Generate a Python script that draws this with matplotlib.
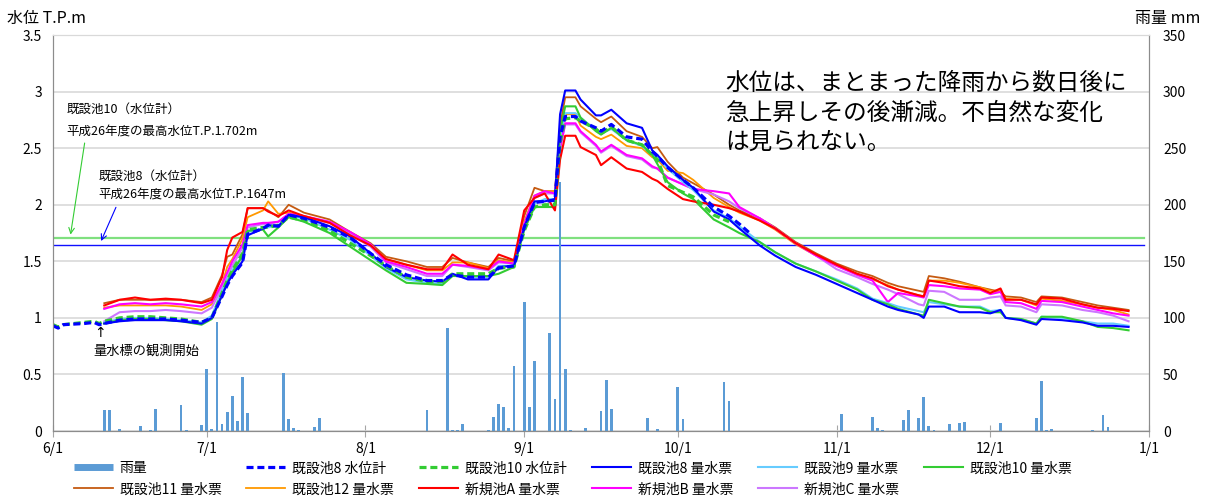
import matplotlib.pyplot as plt
import matplotlib.dates as mdates
from matplotlib.lines import Line2D
import numpy as np
import pandas as pd

plt.rcParams['font.family'] = ['Noto Sans CJK JP', 'DejaVu Sans']

YEAR = 2015


def to_dates(labels):
    out = []
    for s in labels:
        m, d = s.split('/')
        y = YEAR if int(m) >= 6 else YEAR + 1
        out.append(pd.Timestamp(y, int(m), int(d)))
    return out


# ---- 日雨量 (mm) ----
rain_days = ['6/11', '6/12', '6/14', '6/16', '6/17', '6/18', '6/20', '6/21', '6/26', '6/27',
             '6/30', '7/1', '7/2', '7/3', '7/4', '7/5', '7/6', '7/7', '7/8', '7/9',
             '7/12', '7/13', '7/15', '7/16', '7/17', '7/18', '7/19', '7/22', '7/23',
             '8/13', '8/17', '8/18', '8/19', '8/20', '8/25', '8/26', '8/27', '8/28', '8/29',
             '8/30', '9/1', '9/2', '9/3', '9/6', '9/7', '9/8', '9/9', '9/10', '9/13',
             '9/16', '9/17', '9/18', '9/24', '9/25', '9/27', '10/1', '10/2', '10/10', '10/11',
             '11/2', '11/8', '11/9', '11/10', '11/14', '11/15', '11/17', '11/18', '11/19', '11/20',
             '11/23', '11/25', '11/26', '12/3', '12/10', '12/11', '12/12', '12/13', '12/15', '12/21',
             '12/23', '12/24']
rain_mm = [18.6, 18.3, 2.0, 0.3, 0.3, 4.4, 0.5, 19.7, 23.0, 0.5,
           5.3, 54.8, 1.8, 96.7, 6.2, 16.8, 31.2, 8.8, 48.0, 15.9,
           0.3, 0.3, 0.3, 51.0, 10.3, 2.4, 0.9, 3.2, 11.2,
           18.6, 91.0, 0.5, 0.5, 5.9, 0.5, 12.7, 24.2, 21.5, 2.7,
           57.5, 114.4, 21.5, 62.2, 87.0, 28.6, 220.0, 55.0, 1.2, 2.4,
           17.4, 45.0, 19.5, 0.3, 11.2, 1.8, 39.2, 10.6, 43.3, 26.5,
           15.0, 12.7, 2.7, 0.5, 9.7, 18.6, 11.8, 30.0, 4.7, 0.5,
           5.9, 7.4, 8.0, 6.8, 11.8, 44.0, 0.5, 1.8, 0.3, 0.5,
           13.9, 3.2]

# ---- 量水票の観測日 ----
days = ['6/11', '6/14', '6/17', '6/20', '6/23', '6/26', '6/30', '7/2', '7/4', '7/5',
        '7/6', '7/8', '7/9', '7/12', '7/13', '7/15', '7/17', '7/20', '7/25', '7/29',
        '8/2', '8/5', '8/9', '8/13', '8/16', '8/18', '8/21', '8/25', '8/27', '8/30',
        '9/1', '9/3', '9/5', '9/7', '9/8', '9/9', '9/11', '9/12', '9/15', '9/16',
        '9/18', '9/21', '9/24', '9/26', '9/27', '9/29', '10/2', '10/4', '10/8', '10/11',
        '10/13', '10/17', '10/20', '10/24', '10/28', '11/1', '11/5', '11/8', '11/11', '11/13',
        '11/17', '11/18', '11/19', '11/22', '11/25', '11/29', '12/1', '12/3', '12/4', '12/7',
        '12/10', '12/11', '12/15', '12/19', '12/22', '12/25', '12/28']

# 水位計は6/1から
wl_days = ['6/1', '6/2', '6/3', '6/5', '6/7', '6/9', '6/10'] + days[:51] + ['10/15']

ike8_wl = [0.93, 0.91, 0.94, 0.945, 0.95, 0.96, 0.94,
           0.95, 0.98, 0.99, 0.99, 0.99, 0.98, 0.96, 1.00, 1.19, 1.29,
           1.37, 1.49, 1.74, 1.79, 1.82, 1.81, 1.91, 1.88, 1.80, 1.71,
           1.57, 1.47, 1.38, 1.33, 1.33, 1.38, 1.36, 1.36, 1.44, 1.46,
           1.80, 2.02, 2.03, 2.04, 2.60, 2.78, 2.78, 2.74, 2.68, 2.65,
           2.71, 2.60, 2.58, 2.47, 2.43, 2.33, 2.22, 2.15, 1.98, 1.90,
           1.83, 1.75]
ike10_wl = [0.94, 0.92, 0.94, 0.95, 0.96, 0.97, 0.95,
            0.97, 1.00, 1.01, 1.01, 1.00, 0.99, 0.96, 1.00, 1.22, 1.33,
            1.42, 1.57, 1.78, 1.80, 1.80, 1.82, 1.89, 1.86, 1.77, 1.66,
            1.55, 1.46, 1.36, 1.32, 1.32, 1.39, 1.39, 1.39, 1.44, 1.45,
            1.77, 1.98, 2.00, 2.00, 2.55, 2.76, 2.77, 2.74, 2.67, 2.63,
            2.69, 2.57, 2.53, 2.44, 2.40, 2.17, 2.11, 2.07, 1.91, 1.85,
            np.nan, np.nan]

ike8 = [0.95, 0.97, 0.98, 0.98, 0.98, 0.97, 0.95, 1.00, 1.20, 1.30,
        1.38, 1.50, 1.73, 1.79, 1.82, 1.81, 1.91, 1.89, 1.81, 1.72,
        1.57, 1.45, 1.36, 1.33, 1.32, 1.39, 1.34, 1.34, 1.45, 1.46,
        1.80, 2.03, 2.03, 2.05, 2.80, 3.01, 3.01, 2.93, 2.79, 2.79,
        2.84, 2.72, 2.68, 2.48, 2.44, 2.34, 2.22, 2.15, 1.94, 1.87,
        1.79, 1.64, 1.55, 1.45, 1.38, 1.30, 1.22, 1.16, 1.10, 1.07,
        1.03, 1.00, 1.10, 1.10, 1.05, 1.05, 1.04, 1.07, 1.00, 0.98,
        0.94, 0.99, 0.98, 0.96, 0.93, 0.93, 0.92]
ike9 = [0.96, 0.99, 1.00, 1.00, 0.99, 0.98, 0.96, 1.02, 1.24, 1.34,
        1.42, 1.55, 1.76, 1.79, 1.80, 1.82, 1.90, 1.88, 1.78, 1.69,
        1.55, 1.44, 1.34, 1.31, 1.30, 1.38, 1.36, 1.36, 1.46, 1.46,
        1.78, 2.01, 2.05, 2.05, 2.60, 2.81, 2.81, 2.77, 2.66, 2.63,
        2.67, 2.57, 2.52, 2.44, 2.42, 2.32, 2.20, 2.13, 1.95, 1.88,
        1.81, 1.67, 1.58, 1.48, 1.41, 1.34, 1.26, 1.17, 1.13, 1.10,
        1.06, 1.05, 1.14, 1.12, 1.10, 1.10, 1.06, 1.07, 1.00, 0.99,
        0.95, 1.01, 1.00, 0.97, 0.95, 0.95, 0.93]
ike10 = [0.95, 0.98, 0.99, 0.99, 0.98, 0.97, 0.94, 0.99, 1.20, 1.31,
         1.40, 1.55, 1.77, 1.78, 1.72, 1.80, 1.89, 1.85, 1.75, 1.63,
         1.51, 1.42, 1.31, 1.30, 1.29, 1.37, 1.37, 1.37, 1.39, 1.45,
         1.78, 1.98, 1.98, 1.98, 2.65, 2.87, 2.87, 2.77, 2.65, 2.62,
         2.68, 2.57, 2.53, 2.44, 2.36, 2.20, 2.10, 2.05, 1.87, 1.80,
         1.75, 1.67, 1.58, 1.48, 1.41, 1.33, 1.25, 1.16, 1.12, 1.08,
         1.03, 1.02, 1.16, 1.13, 1.10, 1.09, 1.05, 1.05, 1.00, 0.99,
         0.95, 1.01, 1.01, 0.97, 0.92, 0.91, 0.89]
ike11 = [1.13, 1.16, 1.16, 1.16, 1.16, 1.16, 1.14, 1.18, 1.38, 1.54,
         1.56, 1.74, 1.97, 1.97, 1.95, 1.89, 2.00, 1.93, 1.87, 1.76,
         1.66, 1.54, 1.50, 1.45, 1.45, 1.53, 1.49, 1.45, 1.53, 1.50,
         1.90, 2.15, 2.12, 2.12, 2.70, 2.95, 2.95, 2.87, 2.76, 2.73,
         2.78, 2.65, 2.60, 2.50, 2.51, 2.38, 2.24, 2.19, 2.09, 2.00,
         1.95, 1.88, 1.80, 1.67, 1.57, 1.48, 1.41, 1.37, 1.31, 1.28,
         1.24, 1.23, 1.37, 1.35, 1.32, 1.27, 1.25, 1.23, 1.19, 1.18,
         1.14, 1.19, 1.18, 1.14, 1.11, 1.09, 1.07]
ike12 = [1.09, 1.11, 1.11, 1.11, 1.11, 1.10, 1.07, 1.12, 1.30, 1.45,
         1.52, 1.70, 1.89, 1.95, 2.03, 1.92, 1.93, 1.90, 1.84, 1.74,
         1.64, 1.52, 1.47, 1.42, 1.42, 1.49, 1.49, 1.44, 1.51, 1.49,
         1.85, 2.08, 2.12, 2.12, 2.58, 2.80, 2.80, 2.70, 2.60, 2.58,
         2.62, 2.52, 2.50, 2.42, 2.40, 2.30, 2.28, 2.22, 2.06, 1.98,
         1.93, 1.86, 1.78, 1.65, 1.55, 1.46, 1.39, 1.34, 1.29, 1.25,
         1.20, 1.19, 1.33, 1.33, 1.31, 1.27, 1.24, 1.24, 1.17, 1.16,
         1.11, 1.17, 1.15, 1.12, 1.09, 1.07, 1.03]
new_a = [1.11, 1.16, 1.18, 1.16, 1.17, 1.16, 1.13, 1.16, 1.36, 1.60,
         1.71, 1.76, 1.97, 1.97, 1.94, 1.90, 1.95, 1.90, 1.84, 1.73,
         1.64, 1.52, 1.47, 1.43, 1.43, 1.56, 1.47, 1.43, 1.56, 1.51,
         1.95, 2.06, 2.10, 1.95, 2.40, 2.61, 2.61, 2.51, 2.44, 2.35,
         2.42, 2.32, 2.29, 2.23, 2.21, 2.14, 2.05, 2.03, 2.00, 1.97,
         1.94, 1.86, 1.79, 1.66, 1.56, 1.47, 1.39, 1.35, 1.28, 1.25,
         1.20, 1.19, 1.33, 1.31, 1.28, 1.26, 1.22, 1.26, 1.16, 1.16,
         1.12, 1.18, 1.17, 1.12, 1.09, 1.08, 1.06]
new_b = [1.08, 1.12, 1.13, 1.12, 1.13, 1.12, 1.10, 1.14, 1.30, 1.40,
         1.50, 1.65, 1.82, 1.84, 1.84, 1.85, 1.92, 1.90, 1.85, 1.76,
         1.65, 1.50, 1.45, 1.39, 1.39, 1.47, 1.46, 1.43, 1.50, 1.48,
         1.83, 2.08, 2.12, 2.10, 2.50, 2.72, 2.72, 2.65, 2.53, 2.47,
         2.53, 2.44, 2.41, 2.34, 2.32, 2.24, 2.18, 2.14, 2.12, 2.10,
         1.98, 1.88, 1.79, 1.66, 1.55, 1.46, 1.38, 1.33, 1.14, 1.22,
         1.19, 1.18, 1.29, 1.28, 1.26, 1.25, 1.21, 1.23, 1.14, 1.13,
         1.08, 1.15, 1.14, 1.10, 1.07, 1.04, 1.02]
new_c = [0.97, 1.05, 1.06, 1.06, 1.07, 1.06, 1.04, 1.09, 1.27, 1.36,
         1.46, 1.62, 1.80, 1.83, 1.83, 1.85, 1.91, 1.89, 1.84, 1.74,
         1.63, 1.49, 1.43, 1.37, 1.37, 1.47, 1.45, 1.42, 1.49, 1.48,
         1.83, 2.06, 2.10, 2.10, 2.50, 2.71, 2.71, 2.64, 2.52, 2.46,
         2.52, 2.43, 2.40, 2.33, 2.32, 2.24, 2.18, 2.14, 2.09, 2.03,
         1.97, 1.88, 1.79, 1.66, 1.55, 1.43, 1.36, 1.30, 1.25, 1.21,
         1.12, 1.11, 1.24, 1.23, 1.16, 1.16, 1.18, 1.19, 1.11, 1.10,
         1.05, 1.12, 1.11, 1.07, 1.05, 1.02, 0.97]

# 平成26年度の最高水位
max_h26_ike10 = 1.702
max_h26_ike8 = 1.647

x = to_dates(days)
x_wl = to_dates(wl_days)
x_rain = to_dates(rain_days)

fig = plt.figure(figsize=(12.14, 5.01), dpi=100)
ax = fig.add_axes([0.0437, 0.1397, 0.9028, 0.7903])
ax2 = ax.twinx()

# 雨量 (右軸)
bar_color = '#5B9BD5'
ax2.bar(x_rain, rain_mm, width=0.55, color=bar_color, zorder=2)

# 過去最高水位
ax.axhline(max_h26_ike10, xmax=0.995, color='#7FE07F', lw=1.6, zorder=1)
ax.axhline(max_h26_ike8, xmax=0.995, color='#1010FF', lw=1.0, zorder=1)

series = [
    (ike11, '#C55A11', 1.3, '既設池11 量水票'),
    (ike12, '#FF9900', 1.3, '既設池12 量水票'),
    (new_c, '#CC77FF', 1.5, '新規池C 量水票'),
    (new_b, '#FF00FF', 1.5, '新規池B 量水票'),
    (ike9, '#66CCFF', 1.5, '既設池9 量水票'),
    (ike10, '#33CC33', 1.5, '既設池10 量水票'),
    (ike8, '#0000FF', 1.5, '既設池8 量水票'),
    (new_a, '#FF0000', 1.5, '新規池A 量水票'),
]
for vals, col, lw, lab in series:
    ax.plot(x, vals, color=col, lw=lw, zorder=3)

ax.plot(x_wl, ike10_wl, color='#33CC33', lw=2.3, ls=(0, (2.2, 1.2)), zorder=4)
ax.plot(x_wl, ike8_wl, color='#0000FF', lw=2.3, ls=(0, (2.2, 1.2)), zorder=4)

# 軸
ax.set_xlim(pd.Timestamp(YEAR, 6, 1), pd.Timestamp(YEAR + 1, 1, 1))
ax.set_ylim(0, 3.5)
ax2.set_ylim(0, 350)
ax.set_yticks(np.arange(0, 3.51, 0.5))
ax.set_yticklabels(['0', '0.5', '1', '1.5', '2', '2.5', '3', '3.5'])
ax2.set_yticks(np.arange(0, 351, 50))
ax.xaxis.set_major_locator(mdates.MonthLocator())
ax.xaxis.set_major_formatter(mdates.DateFormatter('%-m/%-d'))
ax.tick_params(axis='x', direction='inout', length=8, color='#A6A6A6',
               labelsize=10, pad=4)
ax.tick_params(axis='y', length=0, labelsize=10, pad=8)
ax2.tick_params(axis='y', length=0, labelsize=10, pad=10)
ax.yaxis.grid(True, color='#D9D9D9', lw=1.2)
ax.set_axisbelow(True)
for sp in ['left', 'bottom', 'right']:
    ax.spines[sp].set_color('#8C8C8C')
    ax2.spines[sp].set_color('#8C8C8C')
ax.spines['top'].set_color('#D9D9D9')
ax2.spines['top'].set_color('#D9D9D9')

fig.text(0.006, 0.963, '水位 T.P.m', fontsize=11.5, va='center')
fig.text(0.989, 0.963, '雨量 mm', fontsize=11.5, va='center', ha='right')

# 注記
ax.text(pd.Timestamp(YEAR, 6, 3, 16), 2.84, '既設池10（水位計）', fontsize=9, va='center')
ax.text(pd.Timestamp(YEAR, 6, 3, 16), 2.65, '平成26年度の最高水位T.P.1.702m', fontsize=9, va='center')
ax.annotate('', xy=(pd.Timestamp(YEAR, 6, 4, 8), max_h26_ike10 + 0.01),
            xytext=(pd.Timestamp(YEAR, 6, 7, 6), 2.57),
            arrowprops=dict(arrowstyle='->', color='#33CC33', lw=0.8))
ax.text(pd.Timestamp(YEAR, 6, 9, 20), 2.25, '既設池8（水位計）', fontsize=9, va='center')
ax.text(pd.Timestamp(YEAR, 6, 9, 20), 2.09, '平成26年度の最高水位T.P.1647m', fontsize=9, va='center')
ax.annotate('', xy=(pd.Timestamp(YEAR, 6, 10, 4), max_h26_ike8 + 0.01),
            xytext=(pd.Timestamp(YEAR, 6, 13, 12), 2.0),
            arrowprops=dict(arrowstyle='->', color='#0000FF', lw=0.8))
ax.text(pd.Timestamp(YEAR, 6, 10, 6), 0.87, '↑', fontsize=10, ha='center', va='center',
        family=['DejaVu Sans'])
ax.text(pd.Timestamp(YEAR, 6, 8, 20), 0.71, '量水標の観測開始', fontsize=9.5, va='center')

ax.text(pd.Timestamp(YEAR, 10, 10, 8), 3.17,
        '水位は、まとまった降雨から数日後に\n急上昇しその後漸減。不自然な変化\nは見られない。',
        fontsize=17, va='top', linespacing=1.35)

# 凡例 (列方向に並ぶので2行になるよう並べ替え)
h = {
    '雨量': Line2D([], [], color=bar_color, lw=5, solid_capstyle='butt'),
    '既設池8 水位計': Line2D([], [], color='#0000FF', lw=2.3, ls=(0, (2.2, 1.2))),
    '既設池10 水位計': Line2D([], [], color='#33CC33', lw=2.3, ls=(0, (2.2, 1.2))),
}
for vals, col, lw, lab in series:
    h[lab] = Line2D([], [], color=col, lw=lw)
order = ['雨量', '既設池11 量水票', '既設池8 水位計', '既設池12 量水票',
         '既設池10 水位計', '新規池A 量水票', '既設池8 量水票', '新規池B 量水票',
         '既設池9 量水票', '新規池C 量水票', '既設池10 量水票']
fig.legend([h[k] for k in order], order, loc='upper left', bbox_to_anchor=(0.055, 0.093),
           ncol=6, frameon=False, fontsize=10, handlelength=2.8, handletextpad=0.5,
           columnspacing=1.8, labelspacing=0.5, borderpad=0)

fig.savefig('out.png', dpi=100)
